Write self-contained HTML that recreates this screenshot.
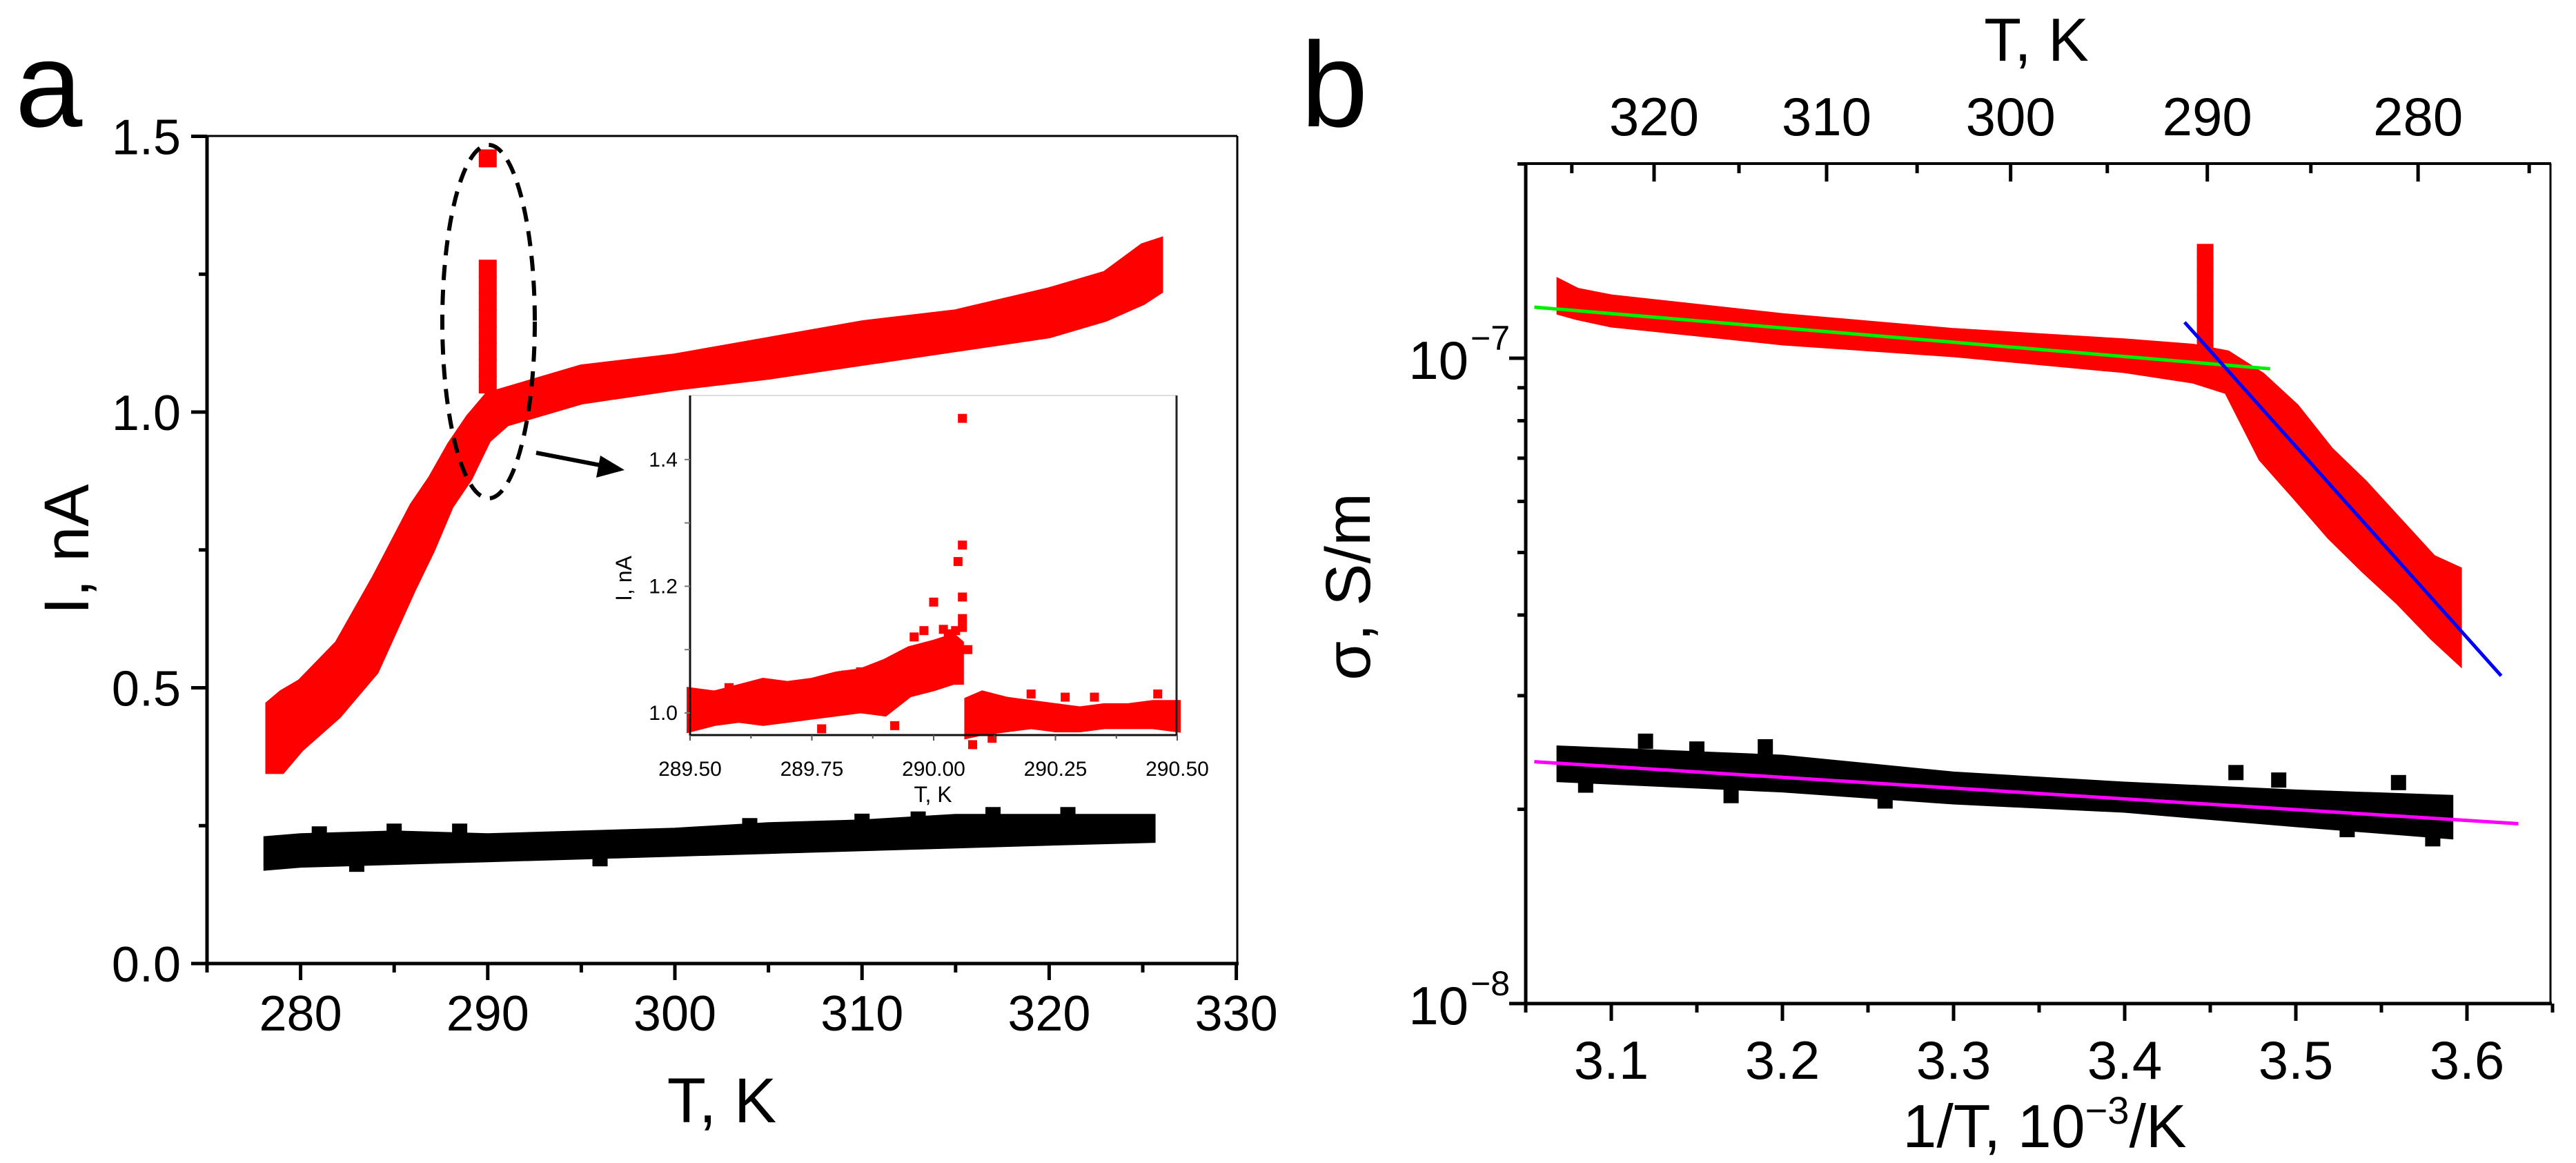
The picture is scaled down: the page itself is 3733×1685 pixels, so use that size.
<!DOCTYPE html>
<html><head><meta charset="utf-8"><style>
html,body{margin:0;padding:0;background:#fff}
svg{display:block;font-family:"Liberation Sans",Arial,sans-serif}
</style></head><body>
<svg id="fig" width="3733" height="1685" viewBox="0 0 3733 1685" xmlns="http://www.w3.org/2000/svg">
<rect width="3733" height="1685" fill="#fff"/>
<g id="pa"></g>
<g id="pb"></g>
</svg>
<script>
// ---------- Panel a data ----------
const aRedT  = [278.3,279,280,282,284,286,287,288,289,290,291,292,295,300,305,310,315,320,323,325,325.9];
const aRedLo = [0.35,0.35,0.39,0.45,0.53,0.68,0.75,0.83,0.88,0.95,0.98,0.99,1.02,1.045,1.065,1.09,1.115,1.14,1.17,1.20,1.22];
const aRedHi = [0.47,0.49,0.51,0.58,0.70,0.83,0.88,0.94,0.99,1.03,1.04,1.05,1.08,1.10,1.13,1.16,1.18,1.22,1.25,1.30,1.31];
const aSpikeT = [290,290,290,290,290,290,290,290,290];
const aSpikeI = [1.46,1.26,1.23,1.20,1.17,1.14,1.11,1.08,1.05];
const aBlkT  = [278.2,280,285,290,295,300,305,310,315,320,325.5];
const aBlkLo = [0.175,0.18,0.185,0.19,0.195,0.2,0.205,0.21,0.215,0.22,0.225];
const aBlkHi = [0.225,0.23,0.235,0.23,0.235,0.24,0.25,0.255,0.265,0.265,0.265];
const aBlkOutT = [281,285,288.5,304,310,313,317,321,283,296];
const aBlkOutI = [0.235,0.24,0.24,0.25,0.258,0.262,0.27,0.27,0.18,0.19];
const aXTicks = [280,290,300,310,320,330];
const aYTicks = [0.0,0.5,1.0,1.5];
const aYLabels = ["0.0","0.5","1.0","1.5"];
// inset
const inBandT  = [289.50,289.55,289.60,289.65,289.70,289.75,289.80,289.85,289.90,289.95,290.00,290.04,290.055];
const inBandLo = [0.975,0.985,0.99,0.985,0.99,0.995,1.0,1.005,1.0,1.03,1.04,1.05,1.05];
const inBandHi = [1.035,1.03,1.04,1.05,1.045,1.05,1.06,1.065,1.08,1.10,1.11,1.12,1.11];
const inBand2T  = [290.07,290.10,290.15,290.20,290.25,290.30,290.35,290.40,290.45,290.50];
const inBand2Lo = [0.965,0.97,0.975,0.98,0.975,0.975,0.98,0.98,0.98,0.975];
const inBand2Hi = [1.02,1.03,1.02,1.015,1.01,1.005,1.01,1.01,1.015,1.015];
const inPtT = [289.58,289.62,289.82,289.85,290.0,290.02,290.05,290.059,290.059,290.059,290.059,290.059,290.07,290.20,290.27,290.33,290.46,289.77,290.08,290.12,289.92,289.96,289.98,290.03,290.045];
const inPtI = [1.04,1.035,1.06,1.065,1.175,1.132,1.239,1.465,1.265,1.183,1.149,1.135,1.10,1.03,1.025,1.025,1.03,0.975,0.95,0.96,0.98,1.12,1.13,1.125,1.13];
const inXTicks = [289.5,289.75,290.0,290.25,290.5];
const inXLabels = ["289.50","289.75","290.00","290.25","290.50"];
const inYTicks = [1.0,1.2,1.4];
const inYLabels = ["1.0","1.2","1.4"];
// ---------- Panel b data ----------
const bRedX  = [3.07,3.08,3.1,3.2,3.3,3.4,3.44,3.46,3.48,3.5,3.52,3.54,3.56,3.58,3.595];
const bRedLo = [1.18,1.16,1.13,1.06,1.016,0.96,0.925,0.89,0.70,0.61,0.53,0.47,0.42,0.37,0.34];
const bRedHi = [1.31,1.27,1.24,1.16,1.10,1.06,1.04,1.016,0.94,0.84,0.72,0.64,0.56,0.49,0.47];
const bSpikeX = [3.447,3.447,3.447,3.447,3.447,3.447,3.447,3.447];
const bSpikeS = [1.46,1.40,1.34,1.28,1.22,1.16,1.10,1.05];
const bBlkX  = [3.07,3.2,3.3,3.4,3.5,3.59];
const bBlkLo = [2.23,2.15,2.06,2.0,1.9,1.82];
const bBlkHi = [2.48,2.4,2.26,2.18,2.12,2.08];
const bBlkOutX = [3.12,3.15,3.19,3.465,3.49,3.56,3.085,3.17,3.26,3.53,3.58];
const bBlkOutS = [2.55,2.48,2.5,2.28,2.22,2.2,2.18,2.1,2.06,1.86,1.8];
const fitGreenX = [3.055,3.485], fitGreenS = [1.2e-7,0.963e-7];
const fitBlueX  = [3.435,3.62],  fitBlueS  = [1.137e-7,3.22e-8];
const fitMagX   = [3.055,3.63],  fitMagS   = [2.37e-8,1.9e-8];
const bXTicks = [3.1,3.2,3.3,3.4,3.5,3.6];
const bXLabels = ["3.1","3.2","3.3","3.4","3.5","3.6"];
const bTopT = [320,310,300,290,280];

const NS="http://www.w3.org/2000/svg";
function mk(parent,tag,attrs,text){const e=document.createElementNS(NS,tag);for(const k in attrs)e.setAttribute(k,attrs[k]);if(text!==undefined)e.textContent=text;parent.appendChild(e);return e;}
const pa=document.getElementById('pa'), pb=document.getElementById('pb');

const xa=T=>300+(T-275)*27.12, ya=I=>1396-I*799;
const xi=T=>1000+(T-289.5)*706, yi=I=>1033-(I-1)*918;
const xb=v=>2211+(v-3.05)*2480, yb=s=>519-(Math.log10(s)+7)*935;

function band(parent,X,Lo,Hi,fx,fy,color,scale,name){
  let pts=[];
  for(let i=0;i<X.length;i++)pts.push(fx(X[i])+','+fy(Hi[i]*scale));
  for(let i=X.length-1;i>=0;i--)pts.push(fx(X[i])+','+fy(Lo[i]*scale));
  const p=mk(parent,'polygon',{points:pts.join(' '),fill:color,stroke:color,'stroke-width':10,'stroke-linejoin':'miter'});
  
  
}
function squares(parent,X,Y,fx,fy,sz,color,scale,name){
  for(let i=0;i<X.length;i++){
    const r=mk(parent,'rect',{x:fx(X[i])-sz/2,y:fy(Y[i]*scale)-sz/2,width:sz,height:sz,fill:color});
    
    
  }
}
function line(parent,x1,y1,x2,y2,w,c){return mk(parent,'line',{x1,y1,x2,y2,stroke:c||'#000','stroke-width':w});}

// ===== Panel a =====
let t=mk(pa,'text',{x:22,y:183,'font-size':175},'a');

const gaData=mk(pa,'g',{});
band(gaData,aRedT,aRedLo,aRedHi,xa,ya,'#ff0000',1,'red-series-band');
squares(gaData,aSpikeT,aSpikeI,xa,ya,26,'#ff0000',1,'red-spike-point');
band(gaData,aBlkT,aBlkLo,aBlkHi,xa,ya,'#000',1,'black-series-band');
squares(gaData,aBlkOutT,aBlkOutI,xa,ya,22,'#000',1,'black-series-point');
line(pa,300,197,1793,197,3);line(pa,1793,197,1793,1396,3);
line(pa,300,197,300,1398,5);line(pa,277,1396,1795,1396,5);
for(let T=275;T<=330;T+=5){const maj=aXTicks.includes(T);line(pa,xa(T),1396,xa(T),1396+(maj?24:13),5);}
aXTicks.forEach(T=>{const e=mk(pa,'text',{x:xa(T),y:1493,'font-size':72,'text-anchor':'middle'},String(T));});
for(let v=0;v<=1.5001;v+=0.25){const maj=Math.abs(v*2-Math.round(v*2))<1e-6;line(pa,300,ya(v),maj?277:288,ya(v),5);}
aYTicks.forEach((v,i)=>{const e=mk(pa,'text',{x:262,y:ya(v)+26,'font-size':72,'text-anchor':'end'},aYLabels[i]);});
t=mk(pa,'text',{x:1046,y:1626,'font-size':92,'text-anchor':'middle'},'T, K');
t=mk(pa,'text',{x:0,y:0,'font-size':92,'text-anchor':'middle',transform:'translate(128,796) rotate(-90)'},'I, nA');
t=mk(pa,'ellipse',{cx:708,cy:466,rx:67,ry:256,fill:'none',stroke:'#000','stroke-width':6,'stroke-dasharray':'22 14'});
line(pa,777,656,880,676,6);
t=mk(pa,'polygon',{points:'905,681 870,660 864,692',fill:'#000'});
const gi=mk(pa,'g',{});
mk(gi,'rect',{x:1000,y:573,width:705,height:492,fill:'#fff'});
band(gi,inBandT,inBandLo,inBandHi,xi,yi,'#ff0000',1,'inset-red-band');
band(gi,inBand2T,inBand2Lo,inBand2Hi,xi,yi,'#ff0000',1,'inset-red-band-after');
squares(gi,inPtT,inPtI,xi,yi,13,'#ff0000',1,'inset-red-point');
line(gi,1000,573,1705,573,2,'#ddd');line(gi,1705,573,1705,1065,3,'#222');
line(gi,1000,573,1000,1066,3,'#111');line(gi,1000,1065,1706,1065,3,'#111');
for(let T=289.5;T<=290.5001;T+=0.125){const maj=Math.abs(T*4-Math.round(T*4))<1e-6;line(gi,xi(T),1065,xi(T),1065+(maj?8:5),2,'#555');}
inXTicks.forEach((T,i)=>{const e=mk(gi,'text',{x:xi(T),y:1124,'font-size':30,'text-anchor':'middle'},inXLabels[i]);});
for(let v=1.0;v<=1.4001;v+=0.1){line(gi,992,yi(v),1000,yi(v),2,'#777');}
inYTicks.forEach((v,i)=>{const e=mk(gi,'text',{x:982,y:yi(v)+10,'font-size':30,'text-anchor':'end'},inYLabels[i]);});
t=mk(gi,'text',{x:1352,y:1162,'font-size':32,'text-anchor':'middle'},'T, K');
t=mk(gi,'text',{x:0,y:0,'font-size':32,'text-anchor':'middle',transform:'translate(915,838) rotate(-90)'},'I, nA');

// ===== Panel b =====
t=mk(pb,'text',{x:1885,y:183,'font-size':175},'b');
const gb=mk(pb,'g',{});
band(gb,bRedX,bRedLo,bRedHi,xb,yb,'#ff0000',1e-7,'red-series-band');
squares(gb,bSpikeX,bSpikeS,xb,yb,24,'#ff0000',1e-7,'red-spike-point');
band(gb,bBlkX,bBlkLo,bBlkHi,xb,yb,'#000',1e-8,'black-series-band');
squares(gb,bBlkOutX,bBlkOutS,xb,yb,22,'#000',1e-8,'black-series-point');
function fit(X,S,c,name){const l=line(gb,xb(X[0]),yb(S[0]),xb(X[1]),yb(S[1]),5,c);}
fit(fitGreenX,fitGreenS,'#00ee00','green-fit-line');
fit(fitBlueX,fitBlueS,'#0000ff','blue-fit-line');
fit(fitMagX,fitMagS,'#ff00ff','magenta-fit-line');
line(pb,2211,237,3697,237,4);line(pb,3696,237,3696,1454,3);
line(pb,2211,235,2211,1456,5);line(pb,2187,1454,3698,1454,5);
for(let v=3.05;v<=3.6501;v+=0.05){const maj=Math.abs(v*10-Math.round(v*10))<1e-6;line(pb,xb(v),1454,xb(v),1454+(maj?25:13),5);}
bXTicks.forEach((v,i)=>{const e=mk(pb,'text',{x:xb(v),y:1563,'font-size':78,'text-anchor':'middle'},bXLabels[i]);});
[1,2,3,4,5,6,7,8,9,10,20].forEach(m=>{const s=m*1e-8;const maj=(m===1||m===10);line(pb,maj?2187:2199,yb(s),2211,yb(s),5);});
[[1e-8,'10','−8'],[1e-7,'10','−7']].forEach(d=>{const e=mk(pb,'text',{x:2128,y:yb(d[0])+30,'font-size':78,'text-anchor':'end'},d[1]);
 const s=mk(pb,'text',{x:2131,y:yb(d[0])-12,'font-size':50,'text-anchor':'start'},d[2]);});
for(let T=275;T<=325;T+=5){const x=xb(1000/T);if(x>3696)continue;const maj=bTopT.includes(T);line(pb,x,237,x,237+(maj?26:14),5);}
bTopT.forEach(T=>{const e=mk(pb,'text',{x:xb(1000/T),y:196,'font-size':78,'text-anchor':'middle'},String(T));});
t=mk(pb,'text',{x:2951,y:88,'font-size':88,'text-anchor':'middle'},'T, K');
t=mk(pb,'text',{x:2963,y:1662,'font-size':88,'text-anchor':'middle'});
mk(t,'tspan',{},'1/T, 10');mk(t,'tspan',{dy:-34,'font-size':56},'−3');mk(t,'tspan',{dy:34},'/K');
t=mk(pb,'text',{x:0,y:0,'font-size':92,'text-anchor':'middle',transform:'translate(1985,850) rotate(-90)'},'σ, S/m');
</script>
</body></html>
